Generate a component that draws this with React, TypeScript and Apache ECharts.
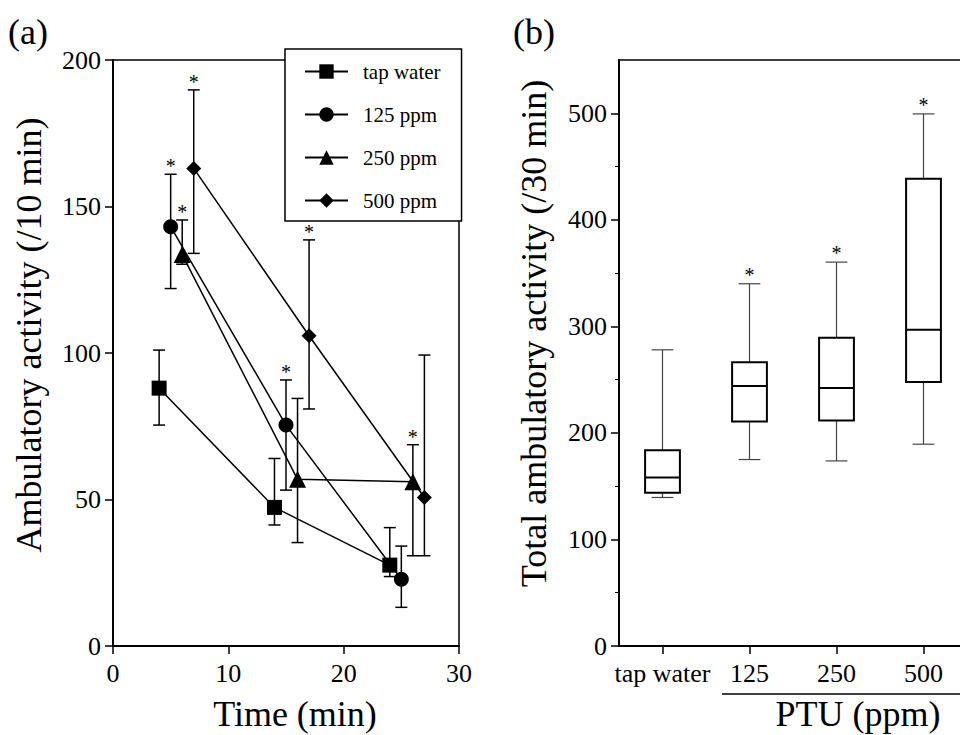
import React, { useEffect, useRef } from "react";
import * as echarts from "echarts";

const FONT = '"Liberation Serif", "Times New Roman", Times, serif';

// ---- Panel (a): time course ----
const timeTicks = [0, 10, 20, 30];
const activityTicks = [0, 50, 100, 150, 200];
const groupNames = ["tap water", "125 ppm", "250 ppm", "500 ppm"];
const groupSymbols = ["rect", "circle", "triangle", "diamond"];
const groupSymbolSizes = [15, 15, 17, 15];

const tapTime = [4, 14, 24];
const tapMean = [88, 47.3, 27.6];
const tapUpper = [101, 64, 40.4];
const tapLower = [75.4, 41.3, 23.7];
const tapSig = [0, 0, 0];

const p125Time = [5, 15, 25];
const p125Mean = [143.1, 75.4, 22.8];
const p125Upper = [161, 90.8, 34.1];
const p125Lower = [122, 53.2, 13.2];
const p125Sig = [1, 1, 0];

const p250Time = [6, 16, 26];
const p250Mean = [133.6, 56.9, 56.1];
const p250Upper = [145.4, 84.5, 68.7];
const p250Lower = [130.3, 35.3, 30.8];
const p250Sig = [1, 0, 1];

const p500Time = [7, 17, 27];
const p500Mean = [163, 105.9, 50.7];
const p500Upper = [189.8, 138.6, 99.3];
const p500Lower = [134, 80.9, 30.8];
const p500Sig = [1, 1, 0];

// ---- Panel (b): box plot ----
const boxCategories = ["tap water", "125", "250", "500"];
const totalMajorTicks = [0, 100, 200, 300, 400, 500];
const totalMinorTicks = [50, 150, 250, 350, 450];
const whiskerLow = [139.4, 175, 173.7, 189.4];
const boxQ1 = [143.8, 210.6, 211.6, 247.8];
const boxMedian = [158.2, 244, 242.2, 296.9];
const boxQ3 = [183.8, 266.3, 289.4, 438.5];
const whiskerHigh = [278, 340, 360.3, 499.4];
const boxSig = [0, 1, 1, 1];

const groups = [
  { t: tapTime, m: tapMean, u: tapUpper, l: tapLower, s: tapSig },
  { t: p125Time, m: p125Mean, u: p125Upper, l: p125Lower, s: p125Sig },
  { t: p250Time, m: p250Mean, u: p250Upper, l: p250Lower, s: p250Sig },
  { t: p500Time, m: p500Mean, u: p500Upper, l: p500Lower, s: p500Sig },
];

export default function App() {
  const ref = useRef<HTMLDivElement>(null);

  useEffect(() => {
    document.body.style.margin = "0";
    if (!ref.current) return;
    const chart = echarts.init(ref.current, undefined, { renderer: "svg" });

    const errData: number[][] = [];
    groups.forEach((g) => {
      g.t.forEach((t, i) => errData.push([t, g.l[i], g.u[i], g.s[i]]));
    });

    const boxData = boxCategories.map((_, i) => [
      i,
      whiskerLow[i],
      boxQ1[i],
      boxMedian[i],
      boxQ3[i],
      whiskerHigh[i],
      boxSig[i],
    ]);

    const axisCommon = {
      axisLine: { show: true, lineStyle: { color: "#000", width: 2 } },
      axisTick: { show: true, inside: false, length: 8, lineStyle: { color: "#000", width: 1.5 } },
      axisLabel: { color: "#000", fontSize: 26, fontFamily: FONT },
      splitLine: { show: false },
      nameTextStyle: { color: "#000", fontSize: 36, fontFamily: FONT },
    };

    const lineSeries = groups.map((g, gi) => ({
      type: "line",
      name: groupNames[gi],
      xAxisIndex: 0,
      yAxisIndex: 0,
      data: g.t.map((t, i) => [t, g.m[i]]),
      symbol: groupSymbols[gi],
      symbolSize: groupSymbolSizes[gi],
      itemStyle: { color: "#000" },
      lineStyle: { color: "#000", width: 1.5 },
      z: 5,
    }));

    const option: any = {
      animation: false,
      backgroundColor: "#fff",
      textStyle: { fontFamily: FONT },
      grid: [
        { left: 113, top: 60, width: 346, height: 586, show: true, borderColor: "#000", borderWidth: 1.5, backgroundColor: "transparent", containLabel: false, outerBoundsMode: "none" },
        { left: 619, top: 60, width: 348, height: 586, show: true, borderColor: "#000", borderWidth: 1.5, backgroundColor: "transparent", containLabel: false, outerBoundsMode: "none" },
      ],
      legend: {
        orient: "vertical",
        left: 285,
        top: 49,
        itemWidth: 43,
        itemHeight: 18,
        itemGap: 22,
        padding: [12, 21, 10, 19],
        backgroundColor: "#fff",
        borderColor: "#000",
        borderWidth: 1.5,
        borderRadius: 0,
        textStyle: { fontSize: 21, fontFamily: FONT, color: "#000", padding: [0, 0, 0, 10] },
        data: groupNames,
        z: 10,
      },
      xAxis: [
        {
          ...axisCommon,
          type: "value",
          gridIndex: 0,
          min: timeTicks[0],
          max: timeTicks[timeTicks.length - 1],
          interval: timeTicks[1] - timeTicks[0],
          axisLabel: { ...axisCommon.axisLabel, margin: 14 },
          name: "Time (min)",
          nameLocation: "middle",
          nameGap: 50,
          nameTextStyle: { ...axisCommon.nameTextStyle, padding: [0, 0, 0, 18] },
        },
        {
          ...axisCommon,
          type: "category",
          gridIndex: 1,
          data: boxCategories,
          axisTick: { ...axisCommon.axisTick, alignWithLabel: true },
          axisLabel: { ...axisCommon.axisLabel, margin: 14, interval: 0, hideOverlap: false },
        },
      ],
      yAxis: [
        {
          ...axisCommon,
          type: "value",
          gridIndex: 0,
          min: activityTicks[0],
          max: activityTicks[activityTicks.length - 1],
          interval: activityTicks[1] - activityTicks[0],
          axisLabel: { ...axisCommon.axisLabel, margin: 12 },
          name: "Ambulatory activity (/10 min)",
          nameLocation: "middle",
          nameGap: 66,
          nameTextStyle: { ...axisCommon.nameTextStyle, padding: [0, 0, 0, 36] },
        },
        {
          ...axisCommon,
          type: "value",
          gridIndex: 1,
          position: "left",
          min: 0,
          max: 550,
          interval: 100,
          axisTick: { ...axisCommon.axisTick, customValues: totalMajorTicks },
          axisLabel: { ...axisCommon.axisLabel, margin: 12, customValues: totalMajorTicks },
          name: "Total ambulatory activity (/30 min)",
          nameLocation: "middle",
          nameGap: 67,
          nameTextStyle: { ...axisCommon.nameTextStyle, padding: [0, 0, 0, 39] },
        },
        {
          type: "value",
          gridIndex: 1,
          position: "left",
          min: 0,
          max: 550,
          interval: 50,
          axisLine: { show: false },
          axisTick: { show: true, length: 4, customValues: totalMinorTicks, lineStyle: { color: "#000", width: 1 } },
          axisLabel: { show: false },
          splitLine: { show: false },
        },
      ],
      series: [
        {
          type: "custom",
          name: "error bars",
          xAxisIndex: 0,
          yAxisIndex: 0,
          data: errData,
          encode: { x: 0, y: [1, 2] },
          z: 3,
          renderItem: (params: any, api: any) => {
            const x = api.value(0);
            const lo = api.coord([x, api.value(1)]);
            const hi = api.coord([x, api.value(2)]);
            const sig = api.value(3);
            const hw = 6;
            const ls = { stroke: "#000", lineWidth: 1.5 };
            const children: any[] = [
              { type: "line", shape: { x1: lo[0], y1: lo[1], x2: hi[0], y2: hi[1] }, style: ls },
              { type: "line", shape: { x1: hi[0] - hw, y1: hi[1], x2: hi[0] + hw, y2: hi[1] }, style: ls },
              { type: "line", shape: { x1: lo[0] - hw, y1: lo[1], x2: lo[0] + hw, y2: lo[1] }, style: ls },
            ];
            if (sig) {
              children.push({
                type: "text",
                x: hi[0],
                y: hi[1] - 8,
                style: { text: "*", fill: "#000", fontSize: 20, fontFamily: FONT, align: "center", verticalAlign: "middle" },
              });
            }
            return { type: "group", children };
          },
        },
        ...lineSeries,
        {
          type: "custom",
          name: "box",
          xAxisIndex: 1,
          yAxisIndex: 1,
          data: boxData,
          encode: { x: 0, y: [1, 5] },
          z: 3,
          renderItem: (params: any, api: any) => {
            const c = api.value(0);
            const pLow = api.coord([c, api.value(1)]);
            const pQ1 = api.coord([c, api.value(2)]);
            const pMed = api.coord([c, api.value(3)]);
            const pQ3 = api.coord([c, api.value(4)]);
            const pHigh = api.coord([c, api.value(5)]);
            const sig = api.value(6);
            const band = api.size([1, 0])[0];
            const bw = band * 0.4;
            const cw = band * 0.25;
            const cx = pMed[0];
            const wl = { stroke: "#444", lineWidth: 1.2 };
            const bl = { stroke: "#000", lineWidth: 2, fill: "#fff" };
            const children: any[] = [
              { type: "line", shape: { x1: cx, y1: pQ3[1], x2: cx, y2: pHigh[1] }, style: wl },
              { type: "line", shape: { x1: cx, y1: pQ1[1], x2: cx, y2: pLow[1] }, style: wl },
              { type: "line", shape: { x1: cx - cw / 2, y1: pHigh[1], x2: cx + cw / 2, y2: pHigh[1] }, style: wl },
              { type: "line", shape: { x1: cx - cw / 2, y1: pLow[1], x2: cx + cw / 2, y2: pLow[1] }, style: wl },
              { type: "rect", shape: { x: cx - bw / 2, y: pQ3[1], width: bw, height: pQ1[1] - pQ3[1] }, style: bl },
              { type: "line", shape: { x1: cx - bw / 2, y1: pMed[1], x2: cx + bw / 2, y2: pMed[1] }, style: { stroke: "#000", lineWidth: 2 } },
            ];
            if (sig) {
              children.push({
                type: "text",
                x: cx,
                y: pHigh[1] - 9,
                style: { text: "*", fill: "#000", fontSize: 20, fontFamily: FONT, align: "center", verticalAlign: "middle" },
              });
            }
            return { type: "group", children };
          },
        },
      ],
      graphic: [
        { type: "text", left: 8, top: 14, style: { text: "(a)", fontSize: 36, fontFamily: FONT, fill: "#000" } },
        { type: "text", left: 513, top: 14, style: { text: "(b)", fontSize: 36, fontFamily: FONT, fill: "#000" } },
        { type: "line", shape: { x1: 722, y1: 694, x2: 960, y2: 694 }, style: { stroke: "#000", lineWidth: 1.5 } },
        { type: "text", x: 858, y: 714, style: { text: "PTU (ppm)", fontSize: 36, fontFamily: FONT, fill: "#000", align: "center", verticalAlign: "middle" } },
      ],
    };

    chart.setOption(option);
    return () => chart.dispose();
  }, []);

  return <div ref={ref} style={{ width: 960, height: 735 }} />;
}
